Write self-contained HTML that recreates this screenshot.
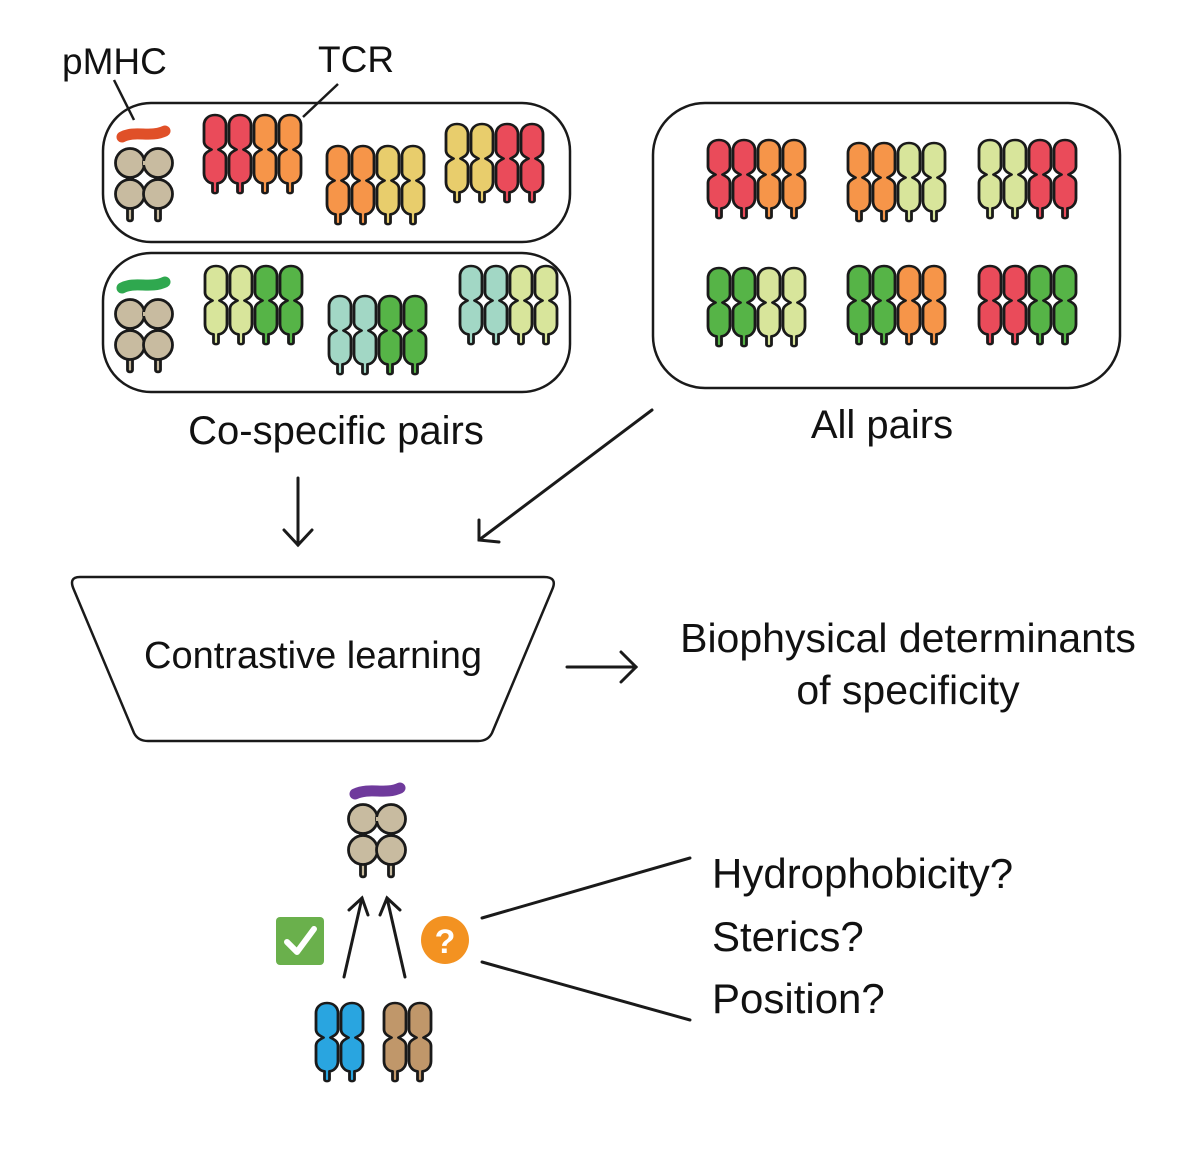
<!DOCTYPE html>
<html><head><meta charset="utf-8"><style>
html,body{margin:0;padding:0;background:#fff}
svg{display:block}
text{font-family:"Liberation Sans",sans-serif;fill:#111}
</style></head><body>
<svg width="1200" height="1162" viewBox="0 0 1200 1162" xmlns="http://www.w3.org/2000/svg">
<defs>
<g id="ch"><path transform="scale(1,0.91)" stroke="#1a1a1a" stroke-width="2.8" stroke-linejoin="round" d="M12,0 C19,0 23,5 23,11 L23,29 C23,34 19,36 15.5,38 C19,40 23,42 23,47 L23,64 C23,71 18,75 14.5,75 L14.5,84 C14.5,86.5 9.5,86.5 9.5,84 L9.5,75 C6,75 1,71 1,64 L1,47 C1,42 5,40 8.5,38 C5,36 1,34 1,29 L1,11 C1,5 5,0 12,0 Z"/></g>
<g id="mhc" stroke="#1a1a1a" stroke-width="2.8" fill="#c8bba0">
<rect x="12" y="12" width="30" height="5" fill="#c8bba0"/>
<rect x="9.5" y="28" width="5" height="12"/>
<path d="M9.5,60 L9.5,71 C9.5,73.5 14.5,73.5 14.5,71 L14.5,60 Z"/>
<path d="M37.5,60 L37.5,71 C37.5,73.5 42.5,73.5 42.5,71 L42.5,60 Z"/>
<circle cx="12" cy="15" r="14.5"/><circle cx="40" cy="15" r="14.5"/>
<circle cx="12" cy="46" r="14.5"/><circle cx="40" cy="46" r="14.5"/>
<rect x="25" y="13" width="2" height="4" stroke="none"/>
</g>
</defs>

<g fill="none" stroke="#1a1a1a" stroke-width="2.5">
<rect x="103" y="103" width="467" height="139" rx="48"/>
<rect x="103" y="253" width="467" height="139" rx="48"/>
<rect x="653" y="103" width="467" height="285" rx="52"/>
<path d="M80,577 L544,577 Q558,577 552,590 L492,733 Q488,741 478,741 L148,741 Q138,741 134,733 L74,590 Q68,577 80,577 Z"/>
</g>

<text x="62" y="74" font-size="37">pMHC</text>
<text x="318" y="72" font-size="37">TCR</text>
<line x1="114" y1="80" x2="134" y2="120" stroke="#1a1a1a" stroke-width="2.5"/>
<line x1="338" y1="84" x2="303" y2="117" stroke="#1a1a1a" stroke-width="2.5"/>

<path d="M122,137 C135,130 150,138 165,131" stroke="#e05028" stroke-width="11" stroke-linecap="round" fill="none"/>
<use href="#mhc" x="118" y="148"/>
<path d="M122,288 C135,281 150,289 165,282" stroke="#2fa84f" stroke-width="11" stroke-linecap="round" fill="none"/>
<use href="#mhc" x="118" y="299"/>
<path d="M355,794 C370,787 385,795 400,788" stroke="#6f3a9c" stroke-width="11" stroke-linecap="round" fill="none"/>
<use href="#mhc" x="351" y="804"/>

<g transform="translate(203,115)"><use href="#ch" fill="#ea4b5a"/><use href="#ch" x="25" fill="#ea4b5a"/><use href="#ch" x="50" fill="#f69549"/><use href="#ch" x="75" fill="#f69549"/></g>
<g transform="translate(326,146)"><use href="#ch" fill="#f69549"/><use href="#ch" x="25" fill="#f69549"/><use href="#ch" x="50" fill="#e8cd6c"/><use href="#ch" x="75" fill="#e8cd6c"/></g>
<g transform="translate(445,124)"><use href="#ch" fill="#e8cd6c"/><use href="#ch" x="25" fill="#e8cd6c"/><use href="#ch" x="50" fill="#ea4b5a"/><use href="#ch" x="75" fill="#ea4b5a"/></g>
<g transform="translate(204,266)"><use href="#ch" fill="#d8e59b"/><use href="#ch" x="25" fill="#d8e59b"/><use href="#ch" x="50" fill="#56b447"/><use href="#ch" x="75" fill="#56b447"/></g>
<g transform="translate(328,296)"><use href="#ch" fill="#a2d7c5"/><use href="#ch" x="25" fill="#a2d7c5"/><use href="#ch" x="50" fill="#56b447"/><use href="#ch" x="75" fill="#56b447"/></g>
<g transform="translate(459,266)"><use href="#ch" fill="#a2d7c5"/><use href="#ch" x="25" fill="#a2d7c5"/><use href="#ch" x="50" fill="#d8e59b"/><use href="#ch" x="75" fill="#d8e59b"/></g>
<g transform="translate(707,140)"><use href="#ch" fill="#ea4b5a"/><use href="#ch" x="25" fill="#ea4b5a"/><use href="#ch" x="50" fill="#f69549"/><use href="#ch" x="75" fill="#f69549"/></g>
<g transform="translate(847,143)"><use href="#ch" fill="#f69549"/><use href="#ch" x="25" fill="#f69549"/><use href="#ch" x="50" fill="#d8e59b"/><use href="#ch" x="75" fill="#d8e59b"/></g>
<g transform="translate(978,140)"><use href="#ch" fill="#d8e59b"/><use href="#ch" x="25" fill="#d8e59b"/><use href="#ch" x="50" fill="#ea4b5a"/><use href="#ch" x="75" fill="#ea4b5a"/></g>
<g transform="translate(707,268)"><use href="#ch" fill="#56b447"/><use href="#ch" x="25" fill="#56b447"/><use href="#ch" x="50" fill="#d8e59b"/><use href="#ch" x="75" fill="#d8e59b"/></g>
<g transform="translate(847,266)"><use href="#ch" fill="#56b447"/><use href="#ch" x="25" fill="#56b447"/><use href="#ch" x="50" fill="#f69549"/><use href="#ch" x="75" fill="#f69549"/></g>
<g transform="translate(978,266)"><use href="#ch" fill="#ea4b5a"/><use href="#ch" x="25" fill="#ea4b5a"/><use href="#ch" x="50" fill="#56b447"/><use href="#ch" x="75" fill="#56b447"/></g>
<g transform="translate(315,1003)"><use href="#ch" fill="#29a5e0"/><use href="#ch" x="25" fill="#29a5e0"/></g>
<g transform="translate(383,1003)"><use href="#ch" fill="#c0976a"/><use href="#ch" x="25" fill="#c0976a"/></g>

<text x="336" y="444" font-size="40" text-anchor="middle">Co-specific pairs</text>
<text x="882" y="438" font-size="40" text-anchor="middle">All pairs</text>
<text x="313" y="668" font-size="38" text-anchor="middle">Contrastive learning</text>
<text x="908" y="652" font-size="41" text-anchor="middle">Biophysical determinants</text>
<text x="908" y="704" font-size="41" text-anchor="middle">of specificity</text>
<text x="712" y="888" font-size="42">Hydrophobicity?</text>
<text x="712" y="951" font-size="42">Sterics?</text>
<text x="712" y="1013" font-size="42">Position?</text>

<g stroke="#1a1a1a" stroke-width="3" fill="none" stroke-linecap="round">
<line x1="298" y1="478" x2="298" y2="545"/><path d="M284,530 L298,545 L312,530"/>
<line x1="652" y1="410" x2="479" y2="540"/><path d="M479,520 L479,540 L499,542"/>
<line x1="567" y1="667" x2="636" y2="667"/><path d="M621,652 L636,667 L621,682"/>
<line x1="344" y1="977" x2="362" y2="898"/><path d="M349,910 L362,898 L368,915"/>
<line x1="405" y1="977" x2="387" y2="898"/><path d="M380,915 L387,898 L400,910"/>
<line x1="482" y1="918" x2="690" y2="858"/>
<line x1="482" y1="962" x2="690" y2="1020"/>
</g>

<rect x="276" y="917" width="48" height="48" rx="4" fill="#6ab04c"/>
<path d="M287,942 L297,952 L314,929" stroke="#fff" stroke-width="6" fill="none" stroke-linecap="round" stroke-linejoin="round"/>
<circle cx="445" cy="940" r="24" fill="#f39221"/>
<text x="445" y="953" font-size="34" font-weight="bold" text-anchor="middle" style="fill:#fff">?</text>
</svg>
</body></html>
